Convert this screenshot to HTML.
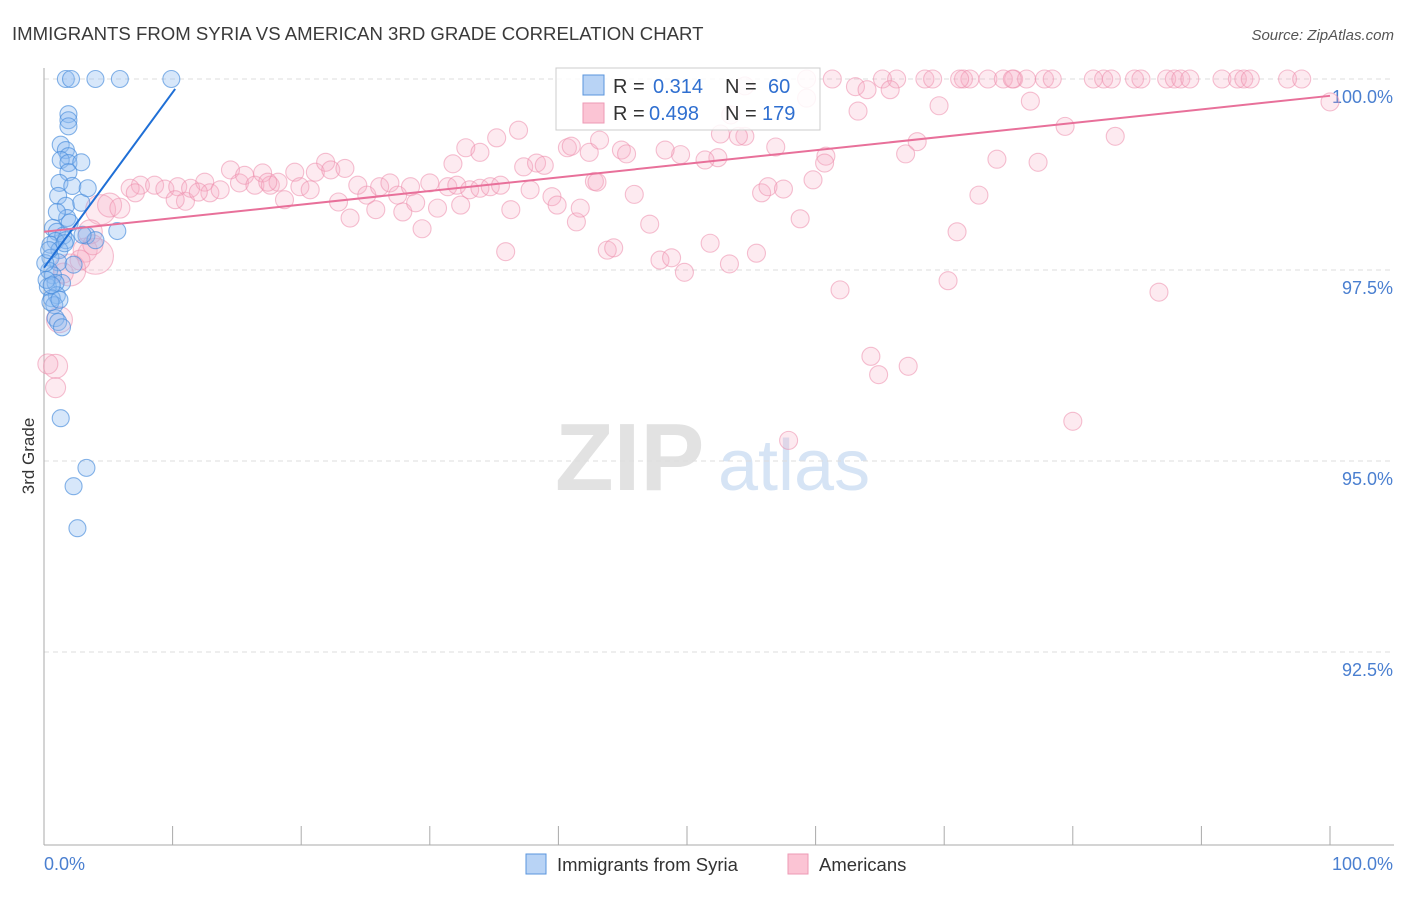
<!DOCTYPE html>
<html><head><meta charset="utf-8"><style>
body{margin:0;background:#fff;font-family:"Liberation Sans",sans-serif}
svg text{font-family:"Liberation Sans",sans-serif}
</style></head><body>
<svg id="chart" width="1406" height="892" viewBox="0 0 1406 892" xmlns="http://www.w3.org/2000/svg">
<text x="12" y="40" font-size="18.6" fill="#3a3a3a">IMMIGRANTS FROM SYRIA VS AMERICAN 3RD GRADE CORRELATION CHART</text>
<text x="1394" y="40" font-size="15" fill="#555" text-anchor="end" font-style="italic">Source: ZipAtlas.com</text>
<g>
<text x="555" y="490" font-size="96" fill="#e2e2e2" font-family="Liberation Serif" font-weight="bold">ZIP</text>
<text x="718" y="490" font-size="72" fill="#d6e4f5">atlas</text>
</g>
<g id="grid"></g>
<g id="axes"></g>
<text transform="translate(34,456) rotate(-90)" font-size="17" fill="#333" text-anchor="middle">3rd Grade</text>
<g id="pink"></g>
<g id="blue"></g>
<g id="lines"></g>
<g>
<rect x="556" y="68" width="264" height="62" fill="#fff" fill-opacity="0.85" stroke="#ccc"/>
<rect x="583" y="75" width="21" height="20" fill="#b8d3f5" stroke="#5a95dd"/>
<rect x="583" y="103" width="21" height="20" fill="#fbc4d4" stroke="#ee9ab5"/>
<text x="613" y="93" font-size="20" fill="#333">R = </text><text x="653" y="93" font-size="20" fill="#2f6fd0">0.314</text>
<text x="725" y="93" font-size="20" fill="#333">N = </text><text x="768" y="93" font-size="20" fill="#2f6fd0">60</text>
<text x="613" y="120" font-size="20" fill="#333">R = </text><text x="649" y="120" font-size="20" fill="#2f6fd0">0.498</text>
<text x="725" y="120" font-size="20" fill="#333">N = </text><text x="762" y="120" font-size="20" fill="#2f6fd0">179</text>
</g>
<g>
<rect x="526" y="854" width="20" height="20" fill="#b8d3f5" stroke="#5a95dd"/>
<text x="557" y="871" font-size="18.5" fill="#333">Immigrants from Syria</text>
<rect x="788" y="854" width="20" height="20" fill="#fbc4d4" stroke="#ee9ab5"/>
<text x="819" y="871" font-size="18.5" fill="#333">Americans</text>
</g>
</svg>
<script>
const yTicks=[100,97.5,95,92.5];
const yTickLabels=["100.0%","97.5%","95.0%","92.5%"];
const xLabels=["0.0%","100.0%"];
const blueX=[1.7,2.1,4.0,5.9,9.9,1.9,1.9,1.9,1.3,1.7,1.9,1.3,1.9,2.9,1.9,1.2,2.2,1.1,1.7,2.9,1.8,1.0,2.0,0.7,1.0,1.5,0.9,1.7,3.3,5.7,0.5,1.2,0.5,1.1,0.4,0.7,1.4,0.3,0.9,1.0,0.6,0.8,0.9,1.1,1.4,1.3,3.3,2.3,2.6,3.4,1.6,0.1,0.2,0.5,4.0,2.3,3.0,0.6,1.2,0.4];
const blueY=[100,100,100,100,100,99.54,99.46,99.38,99.14,99.07,98.99,98.94,98.90,98.91,98.78,98.64,98.60,98.47,98.34,98.38,98.18,98.26,98.12,98.05,98.00,97.95,97.88,97.89,97.95,98.01,97.83,97.76,97.66,97.60,97.49,97.43,97.33,97.28,97.33,97.17,97.13,97.04,96.87,96.82,96.75,95.56,94.91,94.67,94.12,98.57,97.85,97.59,97.37,97.08,97.89,97.57,97.96,97.30,97.11,97.76];
const pinkX=[59.3,61.3,65.2,66.3,68.5,69.1,71.5,72.0,73.4,74.6,75.4,76.4,77.8,78.4,81.6,82.4,83.0,84.8,85.3,87.3,87.9,88.4,89.1,91.6,92.8,93.3,93.8,96.7,97.8,75.3,71.2,
54.5,59.3,63.1,64.0,65.8,69.6,76.7,100.0,63.3,79.4,83.3,67.9,67.0,74.1,77.3,60.8,60.7,59.8,72.7,58.8,71.0,70.3,86.7,61.9,64.3,64.9,67.2,80.0,57.9,56.9,54.5,54.0,52.6,52.4,51.4,49.5,48.3,
36.9,35.2,32.8,33.9,31.8,37.3,38.3,38.9,40.7,41.0,42.4,43.2,44.9,45.3,42.8,45.9,47.1,43.8,44.3,47.9,48.8,49.8,53.3,55.4,51.8,55.8,56.3,57.5,53.4,
7.5,8.6,9.4,10.4,11.0,11.4,12.5,12.9,13.7,14.5,15.2,15.6,16.4,17.0,17.6,18.2,18.7,19.5,19.9,20.7,21.1,21.9,22.3,22.9,23.4,23.8,24.4,25.1,25.8,26.1,26.9,27.5,27.9,28.5,28.9,29.4,30.0,30.6,31.4,32.1,32.4,33.1,33.9,34.7,35.5,36.3,35.9,37.8,39.5,39.9,41.4,41.7,43.0,6.7,7.1,10.2,12.0,17.4,
4.4,5.1,5.9,3.6,3.2,4.0,2.0,1.5,2.8,1.2,0.9,0.3,0.9,3.8];
const pinkY=[100,100,100,100,100,100,100,100,100,100,100,100,100,100,100,100,100,100,100,100,100,100,100,100,100,100,100,100,100,100,100,
99.91,99.75,99.90,99.86,99.86,99.65,99.71,99.70,99.58,99.38,99.25,99.18,99.02,98.95,98.91,98.99,98.90,98.68,98.48,98.17,98.00,97.36,97.21,97.24,96.37,96.13,96.24,95.52,95.27,99.11,99.25,99.25,99.28,98.97,98.94,99.01,99.07,
99.33,99.23,99.10,99.04,98.89,98.85,98.90,98.87,99.10,99.12,99.04,99.20,99.07,99.02,98.66,98.49,98.10,97.76,97.79,97.63,97.66,97.47,97.58,97.72,97.85,98.51,98.59,98.56,99.53,
98.61,98.61,98.56,98.59,98.40,98.57,98.65,98.51,98.55,98.81,98.64,98.74,98.61,98.77,98.61,98.65,98.42,98.78,98.59,98.55,98.78,98.91,98.81,98.39,98.83,98.18,98.61,98.48,98.29,98.59,98.64,98.48,98.26,98.59,98.38,98.04,98.64,98.31,98.59,98.61,98.35,98.55,98.57,98.59,98.61,98.29,97.74,98.55,98.46,98.35,98.13,98.31,98.65,98.57,98.51,98.42,98.52,98.65,
98.29,98.35,98.31,98.00,97.76,97.68,97.50,97.46,97.63,96.85,96.24,96.27,95.96,97.83];
const pinkBig=[15,12,10,12,12,18,16,10,10,13,12,10,10,10];
const blueTrend=[0,97.53,10.2,99.87];
const pinkTrend=[0,98.0,100,99.78];

const X0=44,X1=1330,Y100=79,PXPER=76.4;
function sx(v){return X0+(X1-X0)*v/100;}
function sy(v){return Y100+(100-v)*PXPER;}
const NS="http://www.w3.org/2000/svg";
function mk(tag,attrs,parent){const e=document.createElementNS(NS,tag);for(const k in attrs)e.setAttribute(k,attrs[k]);parent.appendChild(e);return e;}
const grid=document.getElementById('grid'),axes=document.getElementById('axes');
yTicks.forEach((t,i)=>{
  const g=mk('line',{x1:44,x2:1394,y1:sy(t),y2:sy(t),stroke:'#ddd','stroke-dasharray':'5,4'},grid);
  
  
  const tx=mk('text',{x:1393,y:sy(t)+24,'font-size':18,fill:'#4a7fd0','text-anchor':'end'},axes);
  tx.textContent=yTickLabels[i];
  
  
});
const yl=mk('line',{x1:44,x2:44,y1:68,y2:845,stroke:'#aaa'},axes);


const xl=mk('line',{x1:44,x2:1394,y1:845,y2:845,stroke:'#aaa'},axes);


for(let i=0;i<=10;i++){
  const tk=mk('line',{x1:sx(i*10),x2:sx(i*10),y1:826,y2:845,stroke:'#aaa'},axes);
  
  
}
const xa=mk('text',{x:44,y:870,'font-size':18,fill:'#4a7fd0'},axes);xa.textContent=xLabels[0];


const xb=mk('text',{x:1393,y:870,'font-size':18,fill:'#4a7fd0','text-anchor':'end'},axes);xb.textContent=xLabels[1];


const pink=document.getElementById('pink'),blue=document.getElementById('blue');
const nBig=pinkBig.length,nP=pinkX.length;
pinkX.forEach((v,i)=>{
  const bi=i-(nP-nBig);
  const r=bi>=0?pinkBig[bi]:9;
  const c=mk('circle',{cx:sx(v),cy:sy(pinkY[i]),r:r,fill:'rgba(248,170,195,0.25)',stroke:'rgba(236,140,172,0.55)','stroke-width':1.1},pink);
  
  
});
blueX.forEach((v,i)=>{
  const c=mk('circle',{cx:sx(v),cy:sy(blueY[i]),r:8.5,fill:'rgba(140,185,240,0.35)',stroke:'rgba(70,140,220,0.65)','stroke-width':1.1},blue);
  
  
});
const lines=document.getElementById('lines');
const bl=mk('line',{x1:sx(blueTrend[0]),y1:sy(blueTrend[1]),x2:sx(blueTrend[2]),y2:sy(blueTrend[3]),stroke:'#1f6fd6','stroke-width':2},lines);


const pl=mk('line',{x1:sx(pinkTrend[0]),y1:sy(pinkTrend[1]),x2:sx(pinkTrend[2]),y2:sy(pinkTrend[3]),stroke:'#e8709a','stroke-width':2},lines);


</script>
</body></html>
